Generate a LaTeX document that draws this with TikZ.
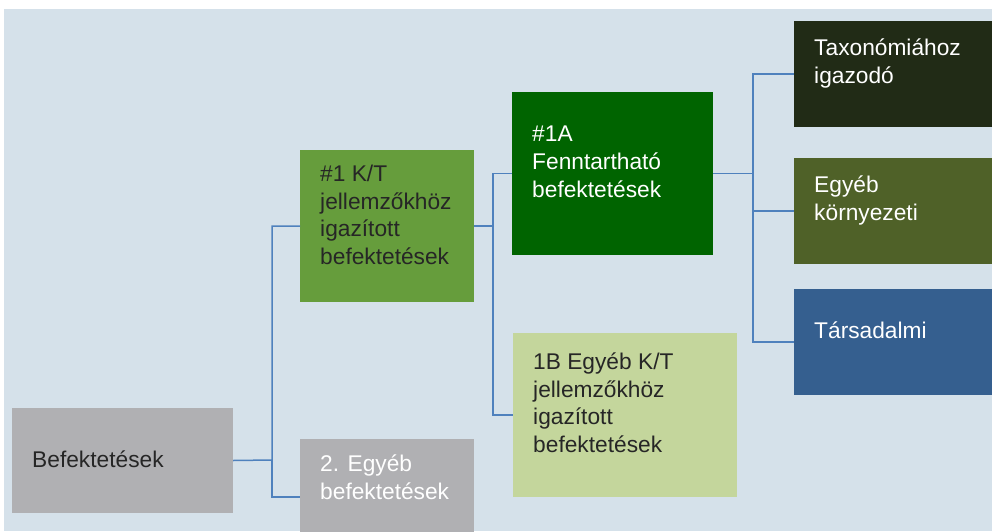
\documentclass[tikz,border=0pt]{standalone}
\usepackage{fontspec}
\setmainfont{Liberation Sans}
\definecolor{panel}{HTML}{D5E1EA}
\definecolor{greybox}{HTML}{B0B0B3}
\definecolor{ktgreen}{HTML}{669D3C}
\definecolor{sustgreen}{HTML}{006400}
\definecolor{othgreen}{HTML}{C4D69C}
\definecolor{taxgreen}{HTML}{212B16}
\definecolor{envgreen}{HTML}{4F6128}
\definecolor{socblue}{HTML}{355F8F}
\definecolor{linkblue}{HTML}{4F81BD}
\definecolor{darktext}{HTML}{262626}
\tikzset{
  box/.style={draw=none, inner sep=0pt, outer sep=0pt},
  txt/.style={inner sep=0pt, align=left, anchor=base west, font=\fontsize{19.4}{23.5}\selectfont},
  link/.style={draw=linkblue, line width=0.045cm},
}
\begin{document}
\begin{tikzpicture}[x=0.03cm, y=-0.03cm]
                    \useasboundingbox (0,0) rectangle (992,531);
                    % Drawing panel
                    \fill [panel] (4,9) rectangle (992,531);%

                    % (text nodes are placed at the baseline of their last line)

                    % Drawing box Befektetesek
                    \node (inv) [box, fill=greybox, minimum width=6.63cm, minimum height=3.15cm] at (122.5,460.5) {};%
                    \node (invt) [txt, text=darktext] at (32,467) {Befektetések};%

                    % Drawing box 2. Egyeb
                    \node (oth) [box, fill=greybox, minimum width=5.22cm, minimum height=3.48cm] at (387,497) {};%
                    \node (otht) [txt, text=white] at (320,499.5) {2. Egyéb\\befektetések};%

                    % Drawing box #1 K/T
                    \node (kt) [box, fill=ktgreen, minimum width=5.22cm, minimum height=4.56cm] at (387,226) {};%
                    \node (ktt) [txt, text=darktext] at (320,264.5) {\#1 K/T\\jellemzőkhöz\\igazított\\befektetések};%

                    % Drawing box #1A
                    \node (sust) [box, fill=sustgreen, minimum width=6.03cm, minimum height=4.89cm] at (612.5,173.5) {};%
                    \node (sustt) [txt, text=white] at (532,197) {\#1A\\Fenntartható\\befektetések};%

                    % Drawing box 1B
                    \node (okt) [box, fill=othgreen, minimum width=6.72cm, minimum height=4.92cm] at (625,415) {};%
                    \node (oktt) [txt, text=darktext] at (533,452.5) {1B Egyéb K/T\\jellemzőkhöz\\igazított\\befektetések};%

                    % Drawing box Taxonomia
                    \node (tax) [box, fill=taxgreen, minimum width=6.18cm, minimum height=3.18cm] at (897,74) {};%
                    \node (taxt) [txt, text=white] at (814,83.5) {Taxonómiához\\igazodó};%

                    % Drawing box Egyeb kornyezeti
                    \node (env) [box, fill=envgreen, minimum width=6.18cm, minimum height=3.18cm] at (897,211) {};%
                    \node (envt) [txt, text=white] at (814,220.5) {Egyéb\\környezeti};%

                    % Drawing box Tarsadalmi
                    \node (soc) [box, fill=socblue, minimum width=6.18cm, minimum height=3.18cm] at (897,342) {};%
                    \node (soct) [txt, text=white] at (814,338) {Társadalmi};%

                    % Drawing links
                    \coordinate (j1) at (272,460);%
                    \coordinate (j2) at (493,226);%
                    \coordinate (j3) at (753,177);%
                    \draw [link] (inv.east) -- (j1) |- (kt.west);%
                    \draw [link] (j1) |- (oth.west);%
                    \draw [link] (kt.east) -- (j2) |- (sust.west);%
                    \draw [link] (j2) |- (okt.west);%
                    \draw [link] (sust.east) -- (sust.east -| j3) |- (tax.west);%
                    \draw [link] (sust.east -| j3) |- (env.west);%
                    \draw [link] (sust.east -| j3) |- (soc.west);%
\end{tikzpicture}
\end{document}
